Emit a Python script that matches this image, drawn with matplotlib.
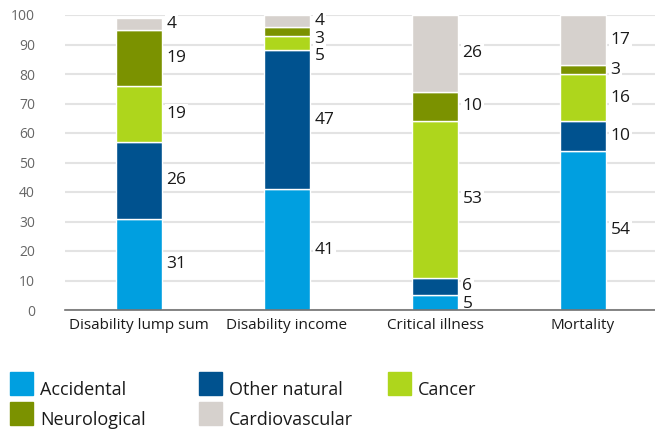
import numpy as np
import matplotlib
matplotlib.use("Agg")
import matplotlib.pyplot as plt
from matplotlib.patches import Rectangle

# data (shares in %)
categories = ["Disability lump sum", "Disability income", "Critical illness", "Mortality"]
series = ["Accidental", "Other natural", "Cancer", "Neurological", "Cardiovascular"]
accidental = [31, 41, 5, 54]
other_natural = [26, 47, 6, 10]
cancer = [19, 5, 53, 16]
neurological = [19, 3, 10, 3]
cardiovascular = [4, 4, 26, 17]
colors = ["#009fe0", "#00528f", "#aed61c", "#7b9200", "#d6d1cd"]
yticks = [0, 10, 20, 30, 40, 50, 60, 70, 80, 90, 100]

plt.rcParams['font.family'] = ['Open Sans', 'DejaVu Sans']

fig = plt.figure(figsize=(6.55, 4.30), dpi=100)
ax = fig.add_axes([65/655, 1-310/430, 592/655, 295/430])

values = np.array([accidental, other_natural, cancer, neurological, cardiovascular], float)
x = np.arange(len(categories))
bottoms = np.zeros(len(categories))
mids = []
for vals, col in zip(values, colors):
    ax.bar(x, vals, 0.31, bottom=bottoms, color=col, edgecolor='white', linewidth=1.0, zorder=3)
    mids.append(bottoms + vals/2)
    bottoms = bottoms + vals
mids = np.array(mids)

# label positions: segment middles, pushed down from the top so they don't collide
min_gap = 6.0
for j in range(len(categories)):
    pos = mids[:, j].copy()
    for i in range(len(series)-2, -1, -1):
        if pos[i+1] - pos[i] < min_gap:
            pos[i] = pos[i+1] - min_gap
    for i in range(len(series)):
        ax.text(x[j] + 0.185, pos[i], f"{int(values[i, j])}", ha='left', va='center',
                fontsize=12.5, color='#1a1a1a', zorder=4,
                bbox=dict(boxstyle='square,pad=0.1', fc='white', ec='none'))

ax.set_xlim(-0.5, 3.5)
ax.set_ylim(0, 100)
ax.set_yticks(yticks)
ax.set_xticks(x)
ax.set_xticklabels(categories, fontsize=11, color='#1a1a1a')
ax.tick_params(axis='y', length=0, pad=21.6, labelsize=10, labelcolor='#666666')
ax.tick_params(axis='x', length=0, pad=6)
ax.yaxis.grid(True, color='#e3e3e3', linewidth=1.5, zorder=0)
ax.set_axisbelow(True)
for s in ['top', 'right', 'left']:
    ax.spines[s].set_visible(False)
ax.spines['bottom'].set_color('#707070')
ax.spines['bottom'].set_linewidth(1.2)
ax.spines['bottom'].set_zorder(5)

# legend built by hand to match the 3-column grid
col_x = [10, 199, 388]
row_y = [372, 402]
for k, (name, col) in enumerate(zip(series, colors)):
    r, c = divmod(k, 3)
    x0 = col_x[c]
    y0 = row_y[r]
    fig.add_artist(Rectangle((x0/655, 1-(y0+23)/430), 23/655, 23/430,
                             transform=fig.transFigure, color=col))
    fig.text((x0+30)/655, 1-(y0+23)/430, name, ha='left', va='baseline',
             fontsize=13, color='#1a1a1a')

fig.savefig("out.png", dpi=100)
